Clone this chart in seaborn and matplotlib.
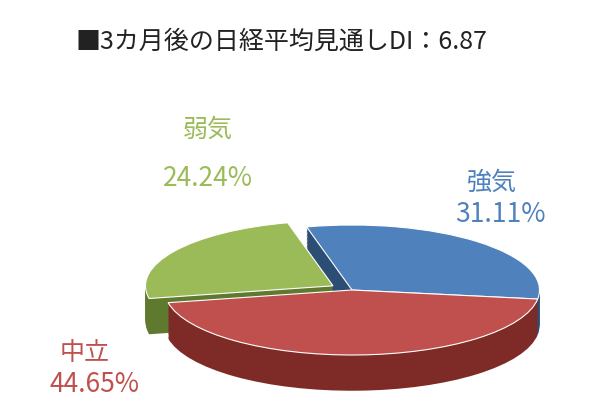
import matplotlib
matplotlib.use("Agg")
import matplotlib.pyplot as plt
import seaborn as sns
import numpy as np

labels = ["強気", "弱気", "中立"]
values = [31.11, 24.24, 44.65]
colors = ["#4f81bd", "#9bbb59", "#c0504d"]
dark = ["#2c4d74", "#5f7a2e", "#7e2b28"]
explode = [0.0, 0.12, 0.0]
title = "■3カ月後の日経平均見通しDI：6.87"

sns.set_theme(style="white")
plt.rcParams["font.family"] = ["Noto Sans CJK JP", "DejaVu Sans"]

fig = plt.figure(figsize=(6, 4.17), dpi=100)
ax = fig.add_axes([0, 0, 1, 1])

# fake 3D: stacked darker pies below the top face
for d in np.linspace(0.55, 0.02, 26):
    ax.pie(values, colors=dark, explode=explode, startangle=-8,
           center=(0, -d), radius=1.0, wedgeprops=dict(linewidth=0))
ax.pie(values, colors=colors, explode=explode, startangle=-8,
       center=(0, 0), radius=1.0,
       wedgeprops=dict(linewidth=0.8, edgecolor="white"))

ax.set_aspect("auto")
ax.set_xlim(-352 / 187.5, 248 / 187.5)
ax.set_ylim(-127 / 65, 290 / 65)
ax.axis("off")

def px(x, y):
    return x / 600, 1 - y / 417

fig.text(*px(75, 42), title, fontsize=18, color="#222222", va="center")
pos = [((492, 183), (500, 215)), ((208, 130), (208, 178)), ((85, 353), (95, 385))]
for lab, v, c, (p1, p2) in zip(labels, values, colors, pos):
    fig.text(*px(*p1), lab, fontsize=18, color=c, va="center", ha="center")
    fig.text(*px(*p2), f"{v:.2f}%", fontsize=19, color=c, va="center", ha="center")

fig.savefig("out.png", dpi=100)
